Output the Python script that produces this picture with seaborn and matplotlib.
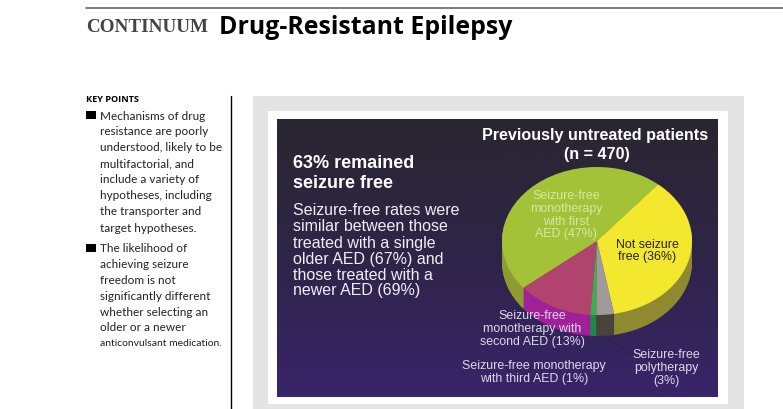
import numpy as np
import seaborn as sns
import matplotlib.pyplot as plt
from matplotlib.colors import LinearSegmentedColormap
from matplotlib.patches import Rectangle

# pie data, start from the not seizure free slice
slice_names = ['Not seizure free', 'Monotherapy first AED', 'Monotherapy second AED',
               'Monotherapy third AED', 'Polytherapy']
slice_values = [36, 47, 13, 1, 3]

header_left = 'CONTINUUM'
header_title = 'Drug-Resistant Epilepsy'
key_first = ['Mechanisms of drug', 'resistance are poorly', 'understood, likely to be',
             'multifactorial, and', 'include a variety of', 'hypotheses, including',
             'the transporter and', 'target hypotheses.']
key_second = ['The likelihood of', 'achieving seizure', 'freedom is not',
              'significantly different', 'whether selecting an', 'older or a newer']
key_last = 'anticonvulsant medication.'
body_lines = ['Seizure-free rates were', 'similar between those', 'treated with a single',
              'older AED (67%) and', 'those treated with a', 'newer AED (69%)']

sns.set_theme(style='white')
top_colors = sns.color_palette(['#f4e82e', '#a3c238', '#b0446e', '#3fae4a', '#a09a9a'])
side_colors = sns.color_palette(['#8f8a30', '#8f9a30', '#a0209a', '#1c8a48', '#48443c'])
flat = {'linewidth': 0, 'edgecolor': 'none'}

fig = plt.figure(figsize=(7.83, 4.10), dpi=100)

# page axes in pixel units
ax = fig.add_axes([0, 0, 1, 1])
ax.set_xlim(0, 783)
ax.set_ylim(410, 0)
ax.axis('off')

ax.plot([86, 783], [8.5, 8.5], color='#666666', lw=1.2)
ax.plot([230.5, 230.5], [97, 410], color='black', lw=1)
ax.add_patch(Rectangle((253, 97), 491, 313, color='#e4e4e4', lw=0))
ax.add_patch(Rectangle((268, 112), 460, 293, color='white', lw=0))

cmap = LinearSegmentedColormap.from_list('panel', ['#2a2530', '#2e2548', '#38246a'])
ax.imshow(np.linspace(0, 1, 200).reshape(-1, 1), cmap=cmap, aspect='auto',
          extent=(277, 718, 398, 120), zorder=2)
ax.set_xlim(0, 783)
ax.set_ylim(410, 0)

# pie, squashed by switching the aspect off, side built from shifted copies
ax_pie = fig.add_axes([502 / 783, (410 - 336) / 410, 190 / 783, 168 / 410])
ax_pie.patch.set_alpha(0)
for shift in np.linspace(0.284, 0.01, 30):
    ax_pie.pie(slice_values, colors=side_colors, startangle=50 - 360 * 0.36, counterclock=True,
               center=(0, -shift), radius=1, wedgeprops=flat)
ax_pie.pie(slice_values, colors=top_colors, startangle=50 - 360 * 0.36, counterclock=True,
           center=(0, 0), radius=1, wedgeprops=flat)
ax_pie.set_aspect('auto')
ax_pie.set_xlim(-1, 1)
ax_pie.set_ylim(-1.27, 1)
ax_pie.axis('off')

# overlay for the text
ax_txt = fig.add_axes([0, 0, 1, 1])
ax_txt.set_xlim(0, 783)
ax_txt.set_ylim(410, 0)
ax_txt.axis('off')

ax_txt.text(86, 28, header_left, family='Liberation Serif', fontsize=13.8, weight='bold', color='#444444', va='center')
ax_txt.text(219, 27, header_title, family='Open Sans', weight='bold', fontsize=17.9, color='black', va='center')

ax_txt.text(86, 100, 'KEY POINTS', family='Open Sans', weight='bold', fontsize=6.6, color='black', va='center')
ax_txt.add_patch(Rectangle((86, 112), 10, 8, color='black', lw=0))
ax_txt.add_patch(Rectangle((86, 245), 10, 8, color='black', lw=0))
for y, line in zip([117, 132, 148, 164, 180, 196, 212, 229], key_first):
    ax_txt.text(100, y, line, family='Lato', fontsize=8.45, color='#222222', va='center')
for y, line in zip([249, 265, 281, 297, 313, 328], key_second):
    ax_txt.text(100, y, line, family='Lato', fontsize=8.45, color='#222222', va='center')
ax_txt.text(100, 344, key_last, family='Lato', fontsize=7.5, color='#222222', va='center')

sans = 'Liberation Sans'
ax_txt.text(293, 164, '63% remained', family=sans, weight='bold', fontsize=13, color='white', va='center')
ax_txt.text(293, 184, 'seizure free', family=sans, weight='bold', fontsize=13, color='white', va='center')
for y, line in zip([211, 227, 244, 260, 276, 291], body_lines):
    ax_txt.text(293, y, line, family=sans, fontsize=11.5, color='#f0eef4', va='center')

ax_txt.text(595, 136, 'Previously untreated patients', family=sans, weight='bold', fontsize=11.6,
            color='white', ha='center', va='center')
ax_txt.text(597, 155, '(n = 470)', family=sans, weight='bold', fontsize=11.6,
            color='white', ha='center', va='center')

pale = '#d9e6a6'
for y, line in zip([196, 209, 222, 234], ['Seizure-free', 'monotherapy', 'with first', 'AED (47%)']):
    ax_txt.text(566, y, line, family=sans, fontsize=8.9, color=pale, ha='center', va='center')
for y, line in zip([245, 257], ['Not seizure', 'free (36%)']):
    ax_txt.text(647, y, line, family=sans, fontsize=8.9, color='#222211', ha='center', va='center')
lilac = '#ddd8ea'
for y, line in zip([316, 329, 342], ['Seizure-free', 'monotherapy with', 'second AED (13%)']):
    ax_txt.text(532, y, line, family=sans, fontsize=8.9, color=lilac, ha='center', va='center')
for y, line in zip([366, 379], ['Seizure-free monotherapy', 'with third AED (1%)']):
    ax_txt.text(534, y, line, family=sans, fontsize=8.9, color=lilac, ha='center', va='center')
for y, line in zip([355, 368, 381], ['Seizure-free', 'polytherapy', '(3%)']):
    ax_txt.text(666, y, line, family=sans, fontsize=8.9, color=lilac, ha='center', va='center')

# leader lines
ax_txt.plot([604, 632], [337, 356], color='#2a2438', lw=0.7)
ax_txt.plot([593, 576], [337, 358], color='#2f2a55', lw=0.6)

fig.savefig('out.png', dpi=100)
